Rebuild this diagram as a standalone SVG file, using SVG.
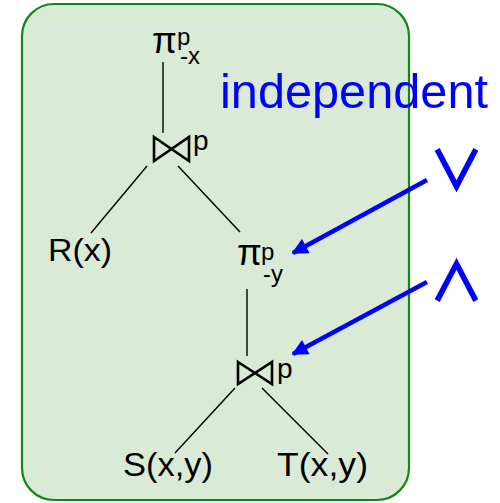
<svg xmlns="http://www.w3.org/2000/svg" width="500" height="503" viewBox="0 0 500 503">
<defs>
<style>
.t{font-family:"Liberation Sans",Arial,sans-serif;fill:#000}
.b{font-family:"Liberation Sans",Arial,sans-serif;fill:#0000ff}
.sym{font-family:"Noto Sans CJK JP","DejaVu Sans",sans-serif;font-weight:700;fill:#0000ff}
.edge{stroke:#000;stroke-width:1.4;fill:none}
.bow{stroke:#000;stroke-width:2.6;fill:none;stroke-linejoin:miter}
.arr{stroke:#0000ff;stroke-width:4.5;fill:none}
</style>
<marker id="ah" viewBox="0 0 10 10" refX="9" refY="5" markerWidth="4" markerHeight="3.6" orient="auto" markerUnits="strokeWidth">
<path d="M0,0 L10,5 L0,10 Z" fill="#0000ff"/>
</marker>
</defs>
<rect x="22" y="4" width="387" height="496" rx="32" ry="32" fill="#d9ebd7" stroke="#138613" stroke-width="2.2"/>
<g id="connectors">
<line class="edge" x1="163" y1="62" x2="163" y2="133"/>
<line class="edge" x1="147" y1="166" x2="91" y2="233"/>
<line class="edge" x1="178" y1="166" x2="240" y2="232"/>
<line class="edge" x1="247" y1="289" x2="247" y2="356"/>
<line class="edge" x1="235" y1="388" x2="175" y2="453"/>
<line class="edge" x1="262" y1="388" x2="328" y2="454"/>
<line class="arr" x1="427" y1="180" x2="293" y2="253" marker-end="url(#ah)"/>
<line class="arr" x1="427" y1="282" x2="293" y2="354" marker-end="url(#ah)"/>
</g>
<g id="proj-x">
<text class="t" x="152" y="53" font-size="36">π</text>
<text class="t" x="177" y="45" font-size="24">p</text>
<text class="t" x="180" y="64" font-size="24">-x</text>
</g>
<g id="join-top">
<path class="bow" d="M154,137 L189,161 L189,137 L154,161 Z"/>
<text class="t" x="193" y="149.5" font-size="28">p</text>
</g>
<g id="R">
<text class="t" x="48" y="261" font-size="31" textLength="64" lengthAdjust="spacingAndGlyphs">R(x)</text>
</g>
<g id="proj-y">
<text class="t" x="237" y="265" font-size="36">π</text>
<text class="t" x="261" y="260" font-size="24">p</text>
<text class="t" x="263" y="282" font-size="24">-y</text>
</g>
<g id="join-bottom">
<path class="bow" d="M238,362 L272,384 L272,362 L238,384 Z"/>
<text class="t" x="277" y="377.5" font-size="28">p</text>
</g>
<g id="S">
<text class="t" x="123" y="476" font-size="33" textLength="90" lengthAdjust="spacingAndGlyphs">S(x,y)</text>
</g>
<g id="T">
<text class="t" x="277" y="476" font-size="33" textLength="91" lengthAdjust="spacingAndGlyphs">T(x,y)</text>
</g>
<g id="label-independent">
<text class="b" x="220" y="108" font-size="48" textLength="268" lengthAdjust="spacingAndGlyphs">independent</text>
</g>
<g id="label-or">
<text class="sym" x="456.5" y="191" font-size="56" text-anchor="middle">∨</text>
</g>
<g id="label-and">
<text class="sym" x="456.5" y="301" font-size="56" text-anchor="middle">∧</text>
</g>
</svg>
